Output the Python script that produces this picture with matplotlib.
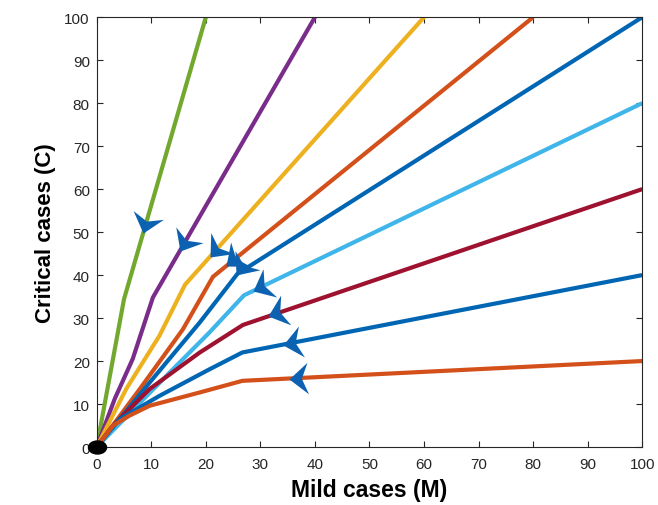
import numpy as np
import matplotlib
matplotlib.use("Agg")
import matplotlib.pyplot as plt
from matplotlib.markers import MarkerStyle
from matplotlib.path import Path
from matplotlib.transforms import Affine2D

plt.rcParams['font.family'] = ['Liberation Sans', 'DejaVu Sans']

# trajectories in the (M, C) plane, from the starting point back to the origin
m_green = [0, 5.0, 20]
c_green = [0, 34.4, 100]
m_purple = [0, 3.3, 6.6, 10.3, 40]
c_purple = [0, 11.2, 20.5, 34.8, 100]
m_yellow = [0, 5.4, 11.5, 16.2, 60]
c_yellow = [0, 13.5, 25.9, 37.8, 100]
m_orange = [0, 7.9, 15.8, 21.3, 80]
c_orange = [0, 13.5, 27.4, 39.6, 100]
m_blue = [0, 9.7, 18.9, 25.8, 100]
c_blue = [0, 15.0, 29.0, 40.3, 100]
m_sky = [0, 12.8, 20.7, 27.0, 100]
c_sky = [0, 16.6, 26.7, 35.3, 80]
m_maroon = [0, 3.0, 9.7, 18.9, 26.8, 100]
c_maroon = [0, 5.0, 13.5, 22.0, 28.4, 60]
m_navy = [0, 4.2, 11.5, 20.7, 26.7, 100]
c_navy = [0, 6.5, 11.9, 18.1, 22.0, 40]
m_rust = [0, 3.0, 6.0, 9.7, 18.9, 26.7, 100]
c_rust = [0, 5.0, 7.3, 9.6, 12.7, 15.4, 20]

# M position of the direction arrow on each trajectory
arrow_m = [8.5, 15.2, 20.7, 23.7, 25.6, 28.6, 31.4, 34.1, 35.3]

ticks = list(range(0, 101, 10))

curves = [
    (m_green, c_green, '#73A82E'),
    (m_purple, c_purple, '#7A2C8A'),
    (m_yellow, c_yellow, '#EDB120'),
    (m_orange, c_orange, '#D4501A'),
    (m_blue, c_blue, '#0066B3'),
    (m_sky, c_sky, '#3FB5EA'),
    (m_maroon, c_maroon, '#9E1230'),
    (m_navy, c_navy, '#0066B3'),
    (m_rust, c_rust, '#D4501A'),
]

fig = plt.figure(figsize=(6.58, 5.06), dpi=100)
ax = fig.add_axes([0.147, 0.1146, 0.829, 0.8494])
ax.set_xlim(0, 100)
ax.set_ylim(0, 100)

for xs, ys, col in curves:
    ax.plot(xs, ys, color=col, lw=3.0, solid_capstyle='butt', zorder=2)

# stealth arrowhead, tip at the origin of the marker, body along +x
head = Path([(0, 0), (1.0, 0.84), (0.66, 0), (1.0, -0.84), (0, 0)],
            [Path.MOVETO, Path.LINETO, Path.LINETO, Path.LINETO, Path.CLOSEPOLY])

for (xs, ys, col), am in zip(curves, arrow_m):
    xs = np.asarray(xs, float)
    ys = np.asarray(ys, float)
    ac = np.interp(am, xs, ys)
    i = np.searchsorted(xs, am)
    p0 = ax.transData.transform((xs[i - 1], ys[i - 1]))
    p1 = ax.transData.transform((xs[i], ys[i]))
    ang = np.degrees(np.arctan2(p1[1] - p0[1], p1[0] - p0[0]))
    mk = MarkerStyle(head, transform=Affine2D().rotate_deg(ang))
    ax.plot([am], [ac], marker=mk, ms=27, color='#0c62b0',
            markeredgewidth=0, linestyle='none', zorder=4)

# equilibrium at the origin
circ = Path.unit_circle()
oval = Path(circ.vertices * [1.0, 0.72], circ.codes)
ax.plot([0], [0], marker=MarkerStyle(oval), ms=13, color='black',
        linestyle='none', clip_on=False, zorder=5)

ax.set_xticks(ticks)
ax.set_yticks(ticks)
ax.tick_params(direction='in', top=True, right=True, length=4, width=0.8,
               labelsize=11, colors='#262626')
ax.tick_params(axis='x', pad=7)
ax.tick_params(axis='y', pad=5)
for s in ax.spines.values():
    s.set_linewidth(0.8)
    s.set_color('#262626')

ax.set_xlabel('Mild cases (M)', fontsize=16.5, fontweight='bold', labelpad=5)
ax.set_ylabel('Critical cases (C)', fontsize=16, fontweight='bold', labelpad=6)

fig.savefig('out.png', dpi=100)
